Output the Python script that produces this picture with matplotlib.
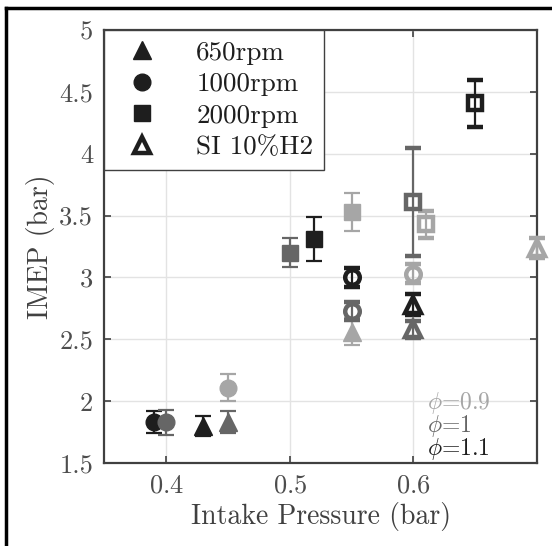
import matplotlib.pyplot as plt
import numpy as np
from matplotlib.lines import Line2D
from matplotlib.ticker import FormatStrFormatter

plt.rcParams['font.family'] = 'cmr10'
plt.rcParams['mathtext.fontset'] = 'cm'
plt.rcParams['axes.formatter.use_mathtext'] = True

# colours for phi = 0.9, 1, 1.1
c09 = '#a6a6a6'
c10 = '#666666'
c11 = '#1e1e1e'

# filled markers (CI-mode points)
tri_x = [0.43, 0.45, 0.55]
tri_y = [1.80, 1.83, 2.56]
tri_e = [0.08, 0.09, 0.11]
tri_c = [c11, c10, c09]

circ_x = [0.39, 0.40, 0.45]
circ_y = [1.83, 1.83, 2.11]
circ_e = [0.09, 0.10, 0.11]
circ_c = [c11, c10, c09]

sq_x = [0.50, 0.52, 0.55]
sq_y = [3.20, 3.31, 3.53]
sq_e = [0.115, 0.18, 0.155]
sq_c = [c10, c11, c09]

# open markers (SI 10%H2)
otri_x = [0.60, 0.60, 0.70]
otri_y = [2.78, 2.58, 3.24]
otri_e = [0.085, 0.07, 0.08]
otri_c = [c11, c10, c09]

ocirc_x = [0.55, 0.55, 0.60]
ocirc_y = [3.00, 2.73, 3.03]
ocirc_e = [0.08, 0.07, 0.075]
ocirc_c = [c11, c10, c09]

osq_x = [0.60, 0.61, 0.65]
osq_y = [3.61, 3.43, 4.41]
osq_e = [0.44, 0.11, 0.19]
osq_c = [c10, c09, c11]

phi_labels = [r'$\phi$=0.9', r'$\phi$=1', r'$\phi$=1.1']
phi_y = [1.985, 1.80, 1.615]

fig = plt.figure(figsize=(5.52, 5.46), dpi=100)
ax = fig.add_axes([0.1888, 0.152, 0.784, 0.793])

def draw(xs, ys, es, cs, marker, ms, filled):
    for x, y, e, c in zip(xs, ys, es, cs):
        if filled:
            ax.errorbar(x, y, yerr=e, fmt=marker, color=c, ms=ms, mfc=c, mec=c,
                        elinewidth=1.6, capsize=6, capthick=1.6, clip_on=False, zorder=3)
        else:
            ax.errorbar(x, y, yerr=e, fmt=marker, color=c, ms=ms - 1.5, mfc='none', mec=c,
                        mew=3.2, elinewidth=1.6, capsize=6, capthick=1.6, clip_on=False, zorder=3)

draw(tri_x, tri_y, tri_e, tri_c, '^', 13, True)
draw(circ_x, circ_y, circ_e, circ_c, 'o', 12, True)
draw(sq_x, sq_y, sq_e, sq_c, 's', 12, True)
draw(otri_x, otri_y, otri_e, otri_c, '^', 13, False)
draw(ocirc_x, ocirc_y, ocirc_e, ocirc_c, 'o', 12, False)
draw(osq_x, osq_y, osq_e, osq_c, 's', 12, False)

ax.set_xlim(0.35, 0.70)
ax.set_ylim(1.5, 5)
ax.set_xticks([0.4, 0.5, 0.6])
ax.set_yticks(np.arange(1.5, 5.01, 0.5))
ax.yaxis.set_major_formatter(FormatStrFormatter('%g'))
ax.grid(True, color='#e3e3e3', linewidth=1.0)
ax.set_axisbelow(True)
ax.tick_params(direction='in', top=True, right=True, length=5, width=1.2,
               color='#404040', labelsize=19, labelcolor='#4d4d4d', pad=8)
for s in ax.spines.values():
    s.set_color('#404040')
    s.set_linewidth(1.6)

ax.set_xlabel('Intake Pressure (bar)', fontsize=20, color='#404040', labelpad=3)
ax.set_ylabel('IMEP (bar)', fontsize=20, color='#404040', labelpad=3)

# phi annotations
for lab, yy, c in zip(phi_labels, phi_y, [c09, c10, c11]):
    ax.text(0.611, yy, lab, color=c, fontsize=17, va='center')

handles = [
    Line2D([], [], ls='none', marker='^', ms=13, color='#1e1e1e'),
    Line2D([], [], ls='none', marker='o', ms=12, color='#1e1e1e'),
    Line2D([], [], ls='none', marker='s', ms=11, color='#1e1e1e'),
    Line2D([], [], ls='none', marker='^', ms=11.5, mfc='white', mec='#1e1e1e', mew=3.2),
]
labels = ['650rpm', '1000rpm', '2000rpm', 'SI 10%H2']
leg = ax.legend(handles, labels, loc='upper left', borderaxespad=0, fontsize=19.5,
                frameon=True, fancybox=False, edgecolor='#404040', framealpha=1,
                handletextpad=1.0, labelspacing=0.28, borderpad=0.4, handlelength=2.0)
leg.get_frame().set_linewidth(1.0)
for t in leg.get_texts():
    t.set_color('#1e1e1e')

# outer frame (left and top edges)
fig.add_artist(Line2D([0.0115, 0.0115], [0, 0.985], color='black', lw=2.5))
fig.add_artist(Line2D([0.0115, 1.0], [0.985, 0.985], color='black', lw=2.5))

fig.savefig('out.png', dpi=100)
